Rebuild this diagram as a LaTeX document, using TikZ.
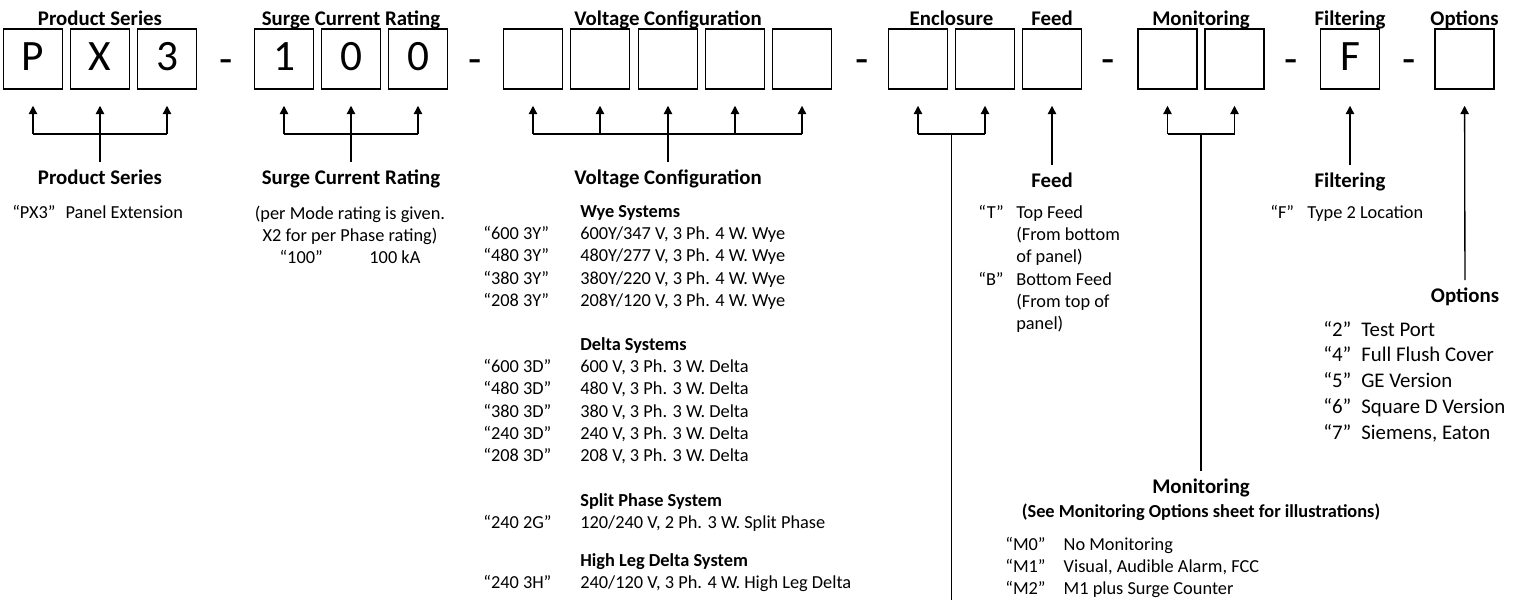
\documentclass[tikz,border=0pt]{standalone}
\usepackage{fontspec}
\setmainfont{Carlito}
\usetikzlibrary{arrows.meta}

\tikzset{
  codebox/.style={draw, line width=0.9pt, minimum width=35.4pt, minimum height=36pt,
    inner sep=0pt, text height=16.8pt, text depth=3.5pt, font=\fontsize{26}{30}\selectfont},
  hyph/.style={inner sep=0pt, anchor=base, font=\fontsize{26}{30}\selectfont},
  heading/.style={inner xsep=0pt, inner ysep=4.2pt, text height=9pt, text depth=2.5pt,
    font=\bfseries\fontsize{12.5}{15}\selectfont},
  listing/.style={inner sep=0pt, anchor=base west, font=\fontsize{11}{13.4}\selectfont},
  feeder/.style={-{Triangle[length=5pt,width=5pt]}, line width=0.8pt, shorten >=9.6pt},
  link/.style={line width=0.8pt},
}

\begin{document}
\begin{tikzpicture}[x=0.6pt, y=-0.6pt]
    \useasboundingbox (0,0) rectangle (1518,600);
    % code boxes
    \node[codebox] (ps1) at (33,59) {P};
    \node[codebox] (ps2) at (100,59) {X};
    \node[codebox] (ps3) at (167,59) {3};
    \node[hyph] (h1) at (226,73) {-};
    \node[codebox] (sc1) at (284,59) {1};
    \node[codebox] (sc2) at (351,59) {0};
    \node[codebox] (sc3) at (418,59) {0};
    \node[hyph] (h2) at (475,73) {-};
    \node[codebox] (vc1) at (533,59) {};
    \node[codebox] (vc2) at (600,59) {};
    \node[codebox] (vc3) at (668,59) {};
    \node[codebox] (vc4) at (735,59) {};
    \node[codebox] (vc5) at (802,59) {};
    \node[hyph] (h3) at (862,73) {-};
    \node[codebox] (en1) at (918,59) {};
    \node[codebox] (en2) at (985,59) {};
    \node[codebox] (fd) at (1052,59) {};
    \node[hyph] (h4) at (1108,73) {-};
    \node[codebox] (mo1) at (1167.5,59) {};
    \node[codebox] (mo2) at (1234.5,59) {};
    \node[hyph] (h5) at (1291,73) {-};
    \node[codebox] (fl) at (1350,59) {F};
    \node[hyph] (h6) at (1409,73) {-};
    \node[codebox] (op) at (1464.5,59) {};

    % titles over the boxes
    \node[heading] (pstitle) at (100,20) {Product Series};
    \node[heading] (sctitle) at (351,20) {Surge Current Rating};
    \node[heading] (vctitle) at (668,20) {Voltage Configuration};
    \node[heading] (entitle) at (951.5,20) {Enclosure};
    \node[heading] (fdtitle) at (1052,20) {Feed};
    \node[heading] (motitle) at (1201,20) {Monitoring};
    \node[heading] (fltitle) at (1350,20) {Filtering};
    \node[heading] (optitle) at (1464.5,20) {Options};

    % labels under the boxes
    \node[heading] (pslabel) at (100,178.6) {Product Series};
    \node[heading] (sclabel) at (351,178.6) {Surge Current Rating};
    \node[heading] (vclabel) at (668,178.6) {Voltage Configuration};
    \node[heading] (fdlabel) at (1052,182) {Feed};
    \node[heading] (fllabel) at (1350,182) {Filtering};
    \node[heading] (oplabel) at (1465,297) {Options};
    \node[heading] (molabel) at (1201,488) {Monitoring};
    \node[inner sep=0pt, font=\bfseries\fontsize{11}{13}\selectfont] (mosub) at (1201,512)
        {(See Monitoring Options sheet for illustrations)};

    % brackets and arrows
    \coordinate (psbar) at (100,134);
    \coordinate (scbar) at (351,134);
    \coordinate (vcbar) at (668,134);
    \coordinate (enbar) at (951.5,134);
    \coordinate (enend) at (951.5,600);
    \coordinate (mobar) at (1201,134);
    \draw[link] (psbar -| ps1) -- (psbar -| ps3);
    \draw[link] (pslabel) -- (psbar);
    \draw[link] (scbar -| sc1) -- (scbar -| sc3);
    \draw[link] (sclabel) -- (scbar);
    \draw[link] (vcbar -| vc1) -- (vcbar -| vc5);
    \draw[link] (vclabel) -- (vcbar);
    \draw[link] (enbar -| en1) -- (enbar -| en2);
    \draw[link] (enbar) -- (enend);
    \draw[link] (mobar -| mo1) -- (mobar -| mo2);
    \draw[link] (molabel) -- (mobar);
    \foreach \b in {ps1,ps2,ps3}
        \draw[feeder] (psbar -| \b) -- (\b);
    \foreach \b in {sc1,sc2,sc3}
        \draw[feeder] (scbar -| \b) -- (\b);
    \foreach \b in {vc1,vc2,vc3,vc4,vc5}
        \draw[feeder] (vcbar -| \b) -- (\b);
    \foreach \b in {en1,en2}
        \draw[feeder] (enbar -| \b) -- (\b);
    \foreach \b in {mo1,mo2}
        \draw[feeder] (mobar -| \b) -- (\b);
    \draw[feeder] (fdlabel) -- (fd);
    \draw[feeder] (fllabel) -- (fl);
    \draw[feeder] (oplabel) -- (op);

    % option texts
    \node[listing] (pstext) at (12,218) {“PX3”\hspace{6pt}Panel Extension};
    \node[listing, anchor=base] (sctext) at (350,219) {\begin{tabular}[t]{@{}c@{}}
        (per Mode rating is given.\\
        X2 for per Phase rating)\\
        “100”\hspace{28pt}100 kA\end{tabular}};
    \node[listing] (vcwye) at (483,217) {\begin{tabular}[t]{@{}p{58.2pt}@{}l@{}}
        & \textbf{Wye Systems}\\
        “600 3Y” & 600Y/347 V, 3 Ph. 4 W. Wye\\
        “480 3Y” & 480Y/277 V, 3 Ph. 4 W. Wye\\
        “380 3Y” & 380Y/220 V, 3 Ph. 4 W. Wye\\
        “208 3Y” & 208Y/120 V, 3 Ph. 4 W. Wye\end{tabular}};
    \node[listing] (vcdelta) at (483,350) {\begin{tabular}[t]{@{}p{58.2pt}@{}l@{}}
        & \textbf{Delta Systems}\\
        “600 3D” & 600 V, 3 Ph. 3 W. Delta\\
        “480 3D” & 480 V, 3 Ph. 3 W. Delta\\
        “380 3D” & 380 V, 3 Ph. 3 W. Delta\\
        “240 3D” & 240 V, 3 Ph. 3 W. Delta\\
        “208 3D” & 208 V, 3 Ph. 3 W. Delta\end{tabular}};
    \node[listing] (vcsplit) at (483,506) {\begin{tabular}[t]{@{}p{58.2pt}@{}l@{}}
        & \textbf{Split Phase System}\\
        “240 2G” & 120/240 V, 2 Ph. 3 W. Split Phase\end{tabular}};
    \node[listing] (vchigh) at (483,566) {\begin{tabular}[t]{@{}p{58.2pt}@{}l@{}}
        & \textbf{High Leg Delta System}\\
        “240 3H” & 240/120 V, 3 Ph. 4 W. High Leg Delta\end{tabular}};
    \node[listing] (fdtext) at (978,218) {\begin{tabular}[t]{@{}p{22.8pt}@{}l@{}}
        “T” & Top Feed\\
        & (From bottom\\
        & of panel)\\
        “B” & Bottom Feed\\
        & (From top of\\
        & panel)\end{tabular}};
    \node[listing] (fltext) at (1270,218) {\begin{tabular}[t]{@{}p{22.2pt}@{}l@{}}
        “F” & Type 2 Location\end{tabular}};
    \node[listing, font=\fontsize{12.5}{15.45}\selectfont] (optext) at (1323,336)
        {\begin{tabular}[t]{@{}p{22.8pt}@{}l@{}}
        “2” & Test Port\\
        “4” & Full Flush Cover\\
        “5” & GE Version\\
        “6” & Square D Version\\
        “7” & Siemens, Eaton\end{tabular}};
    \node[listing] (motext) at (1005,550) {\begin{tabular}[t]{@{}p{35pt}@{}l@{}}
        “M0” & No Monitoring\\
        “M1” & Visual, Audible Alarm, FCC\\
        “M2” & M1 plus Surge Counter\end{tabular}};
\end{tikzpicture}
\end{document}
